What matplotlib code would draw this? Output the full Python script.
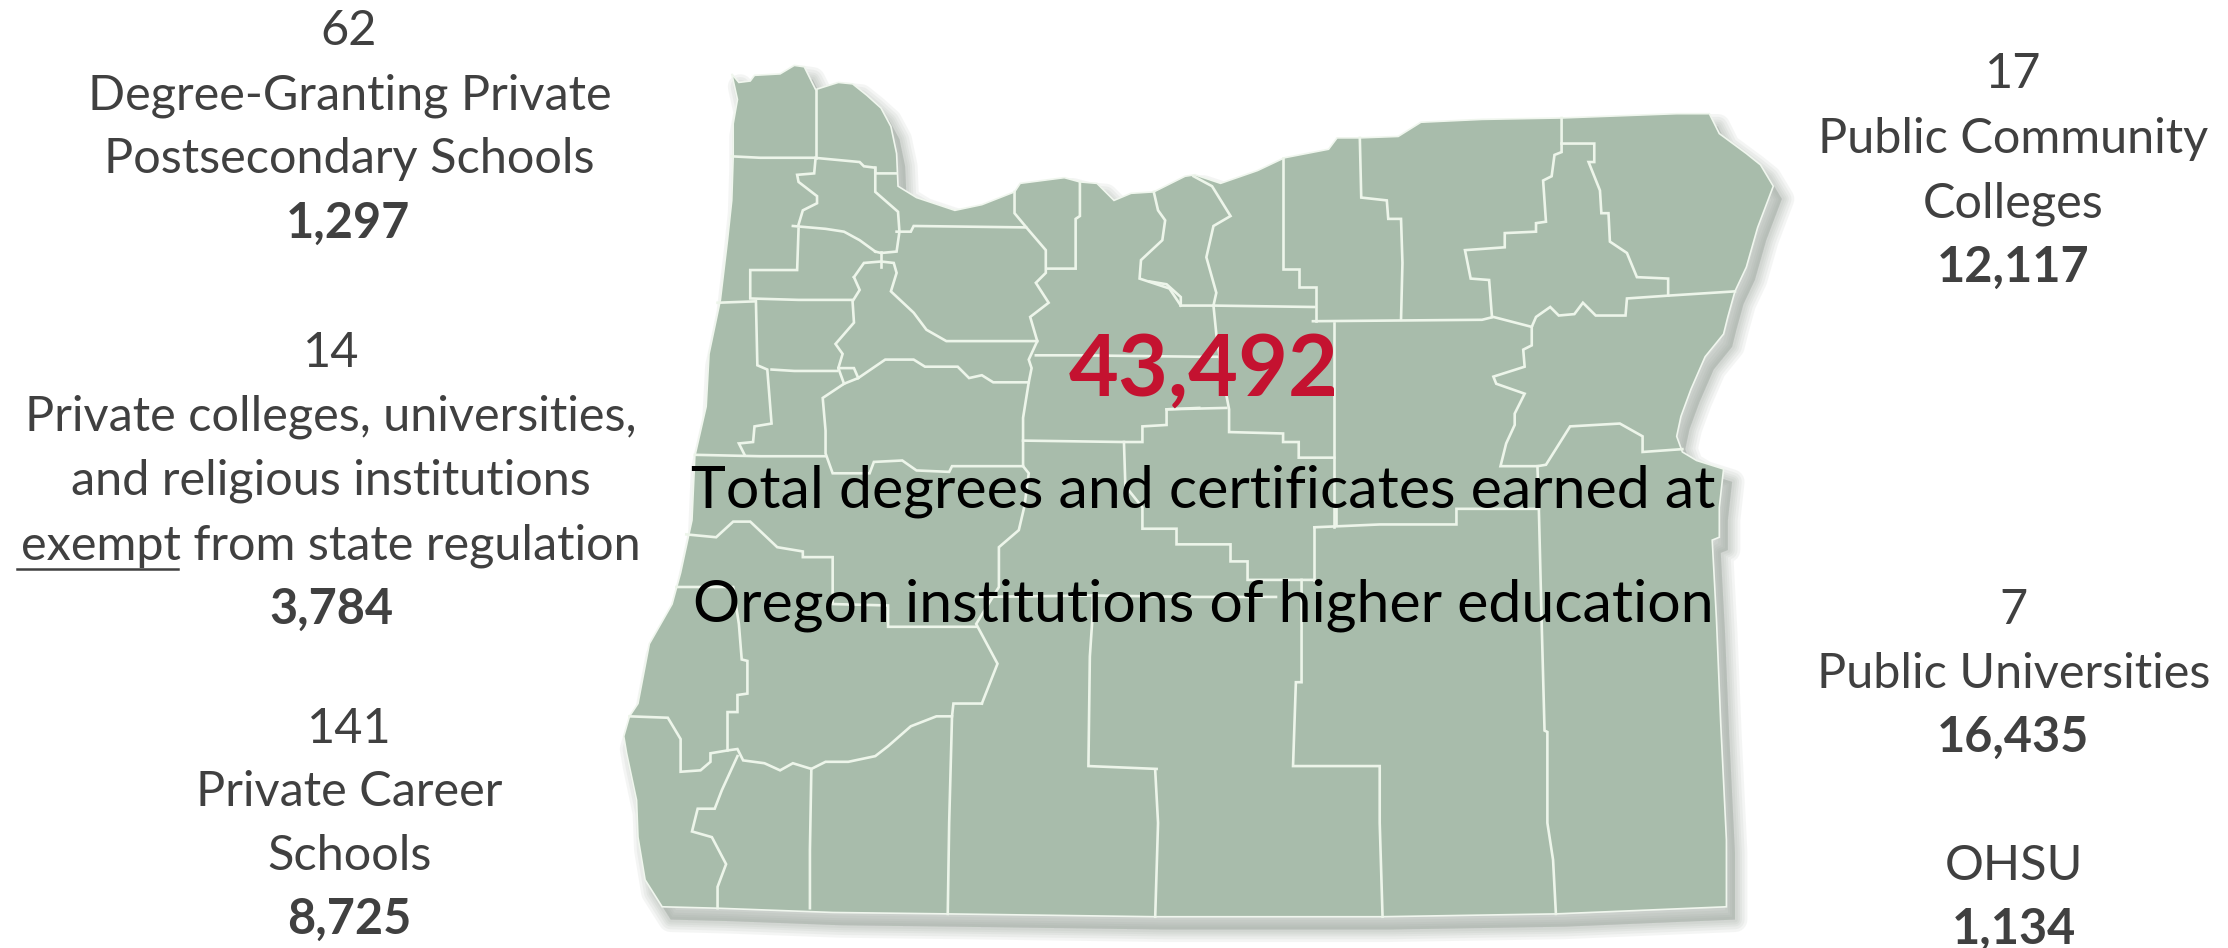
import matplotlib
matplotlib.use('Agg')
import matplotlib.pyplot as plt
from matplotlib.patches import Polygon

plt.rcParams['font.family'] = ['Lato', 'DejaVu Sans']

# map traced in a 1568x667 frame, y going down
state_outline = [
    (515, 52), (520, 58), (528, 57), (531, 53), (549, 52), (559, 46), (566, 47), (570, 55), (574, 63), (590, 58),
    (600, 59), (610, 67), (620, 76), (627, 89), (631, 108), (632, 131), (645, 139), (672, 148), (691, 144), (714, 135),
    (718, 129), (749, 125), (760, 128), (772, 129), (784, 141), (796, 136), (812, 135), (818, 132), (834, 124), (841, 123),
    (859, 129), (885, 120), (904, 111), (935, 105), (941, 97), (957, 97), (984, 96), (1000, 86), (1043, 84), (1099, 83),
    (1180, 80), (1203, 80), (1210, 94), (1229, 108), (1239, 116), (1248, 131), (1237, 160), (1229, 188), (1221, 205),
    (1216, 223), (1213, 235), (1200, 251), (1190, 274), (1183, 293), (1180, 307), (1184, 318), (1194, 324), (1213, 330),
    (1210, 357), (1210, 378), (1205, 380), (1208, 436), (1211, 509), (1215, 591), (1215, 638), (1095, 643), (972, 645),
    (813, 645), (667, 643), (586, 642), (505, 639), (466, 638), (454, 619), (449, 589), (448, 563), (441, 530), (439, 518),
    (443, 504), (449, 495), (457, 453), (473, 425), (479, 403), (487, 366), (489, 321), (497, 286), (499, 249), (507, 211),
    (512, 169), (515, 141), (516, 110), (516, 87), (519, 70),
]

county_lines = [
    [(574, 63), (574, 111)],
    [(515, 110), (535, 111), (573, 111), (605, 114), (608, 117), (616, 118), (616, 122), (631, 122)],
    [(574, 111), (573, 122), (561, 123), (562, 128), (575, 138), (575, 143), (565, 148), (562, 158)],
    [(558, 159), (581, 161), (594, 163), (605, 169), (616, 177)],
    [(562, 161), (561, 190), (528, 190), (528, 210), (562, 211), (600, 211)],
    [(505, 213), (532, 212), (533, 257), (540, 260), (543, 298), (531, 300), (530, 311), (520, 312), (524, 320)],
    [(489, 320), (535, 321), (581, 321)],
    [(543, 260), (559, 261), (589, 261)],
    [(616, 118), (616, 135), (632, 149), (633, 163), (631, 177), (620, 178), (616, 177)],
    [(631, 163), (641, 163), (643, 159), (722, 160)],
    [(620, 177), (620, 188)],
    [(601, 195), (608, 185), (620, 184), (629, 185), (631, 192), (627, 205), (643, 220), (652, 232), (666, 240), (730, 240)],
    [(601, 195), (605, 204), (600, 212), (601, 227), (588, 242), (593, 249), (590, 259), (594, 270), (579, 280), (581, 303),
     (581, 319), (586, 333), (612, 333), (615, 325), (635, 324), (645, 331), (668, 332), (670, 328), (720, 328)],
    [(590, 259), (601, 259), (604, 266), (623, 253), (643, 253), (651, 258), (674, 258), (682, 266), (691, 264), (699, 269),
     (724, 269)],
    [(594, 270), (604, 266)],
    [(714, 135), (714, 150), (724, 162), (736, 176), (736, 192), (729, 199), (738, 213), (725, 223), (730, 240), (724, 253),
     (726, 259), (724, 269), (720, 294), (720, 328), (724, 333), (721, 356), (717, 373), (703, 385), (703, 413), (687, 439),
     (702, 467), (691, 495)],
    [(720, 310), (791, 311), (804, 311), (804, 300), (821, 299), (821, 288), (863, 287)],
    [(791, 311), (792, 342), (804, 357), (804, 372), (828, 372), (828, 383), (866, 383), (866, 395), (878, 395), (878, 408),
     (925, 408)],
    [(925, 371), (925, 408)],
    [(925, 371), (971, 369), (1025, 369), (1025, 358), (1083, 358)],
    [(940, 357), (940, 369)],
    [(939, 227), (939, 371)],
    [(903, 111), (903, 152), (903, 189), (914, 189), (914, 202), (926, 202), (926, 226)],
    [(831, 215), (854, 215), (925, 216)],
    [(854, 215), (856, 235), (860, 262), (865, 288), (865, 304), (903, 305), (903, 311), (914, 311), (914, 322), (939, 322)],
    [(924, 226), (1043, 225), (1051, 223), (1078, 230)],
    [(957, 97), (958, 139), (976, 141), (977, 154), (986, 154), (987, 185), (986, 225)],
    [(1099, 83), (1099, 107), (1094, 109), (1092, 124), (1086, 127), (1088, 156), (1081, 157), (1081, 163), (1059, 164),
     (1059, 174), (1031, 176), (1035, 196), (1048, 197), (1050, 223)],
    [(1099, 101), (1122, 101), (1122, 114), (1118, 114), (1126, 134), (1127, 150), (1132, 150), (1133, 170), (1145, 178),
     (1152, 195), (1174, 196), (1174, 208)],
    [(1221, 205), (1174, 208), (1145, 210), (1144, 222), (1123, 222), (1114, 213), (1108, 221), (1097, 222), (1091, 216),
     (1081, 223), (1078, 230), (1078, 243), (1072, 246), (1073, 258), (1051, 265), (1053, 270), (1073, 277), (1066, 291),
     (1066, 299), (1060, 312), (1056, 328), (1082, 328), (1088, 327), (1105, 300), (1140, 298), (1156, 307), (1156, 318),
     (1184, 316)],
    [(1082, 328), (1083, 358), (1085, 439), (1087, 514), (1089, 515), (1089, 579), (1093, 605), (1095, 643)],
    [(916, 408), (916, 480), (912, 480), (910, 539), (971, 539), (971, 579), (973, 645)],
    [(813, 542), (815, 579), (813, 645)],
    [(769, 419), (769, 432), (767, 462), (766, 539), (814, 541)],
    [(687, 420), (769, 419), (844, 420), (898, 420)],
    [(483, 376), (504, 378), (516, 367), (528, 367), (547, 385), (565, 388), (565, 392), (586, 392), (586, 425), (625, 426),
     (625, 441), (687, 441)],
    [(476, 413), (516, 413), (520, 439), (522, 464), (526, 465), (526, 488), (519, 489), (519, 501), (512, 501), (512, 528),
     (500, 530), (500, 536), (493, 542), (479, 543), (479, 520), (470, 505), (443, 504)],
    [(512, 528), (519, 527), (523, 535), (538, 537), (549, 542), (558, 537), (571, 541), (581, 536), (597, 536), (616, 532),
     (625, 525), (641, 511), (659, 504), (670, 504), (671, 495), (691, 495)],
    [(670, 504), (668, 579), (667, 643)],
    [(571, 541), (570, 598), (570, 639)],
    [(519, 532), (508, 556), (503, 569), (491, 569), (487, 585), (501, 589), (511, 608), (505, 624), (505, 639)],
    [(729, 250), (759, 250), (844, 251), (859, 251)],
    [(821, 288), (844, 287)],
    [(760, 128), (760, 152), (757, 154), (757, 189), (737, 189)],
    [(812, 135), (815, 148), (820, 155), (818, 169), (803, 183), (802, 196), (823, 203), (831, 215)],
    [(840, 124), (853, 131), (866, 152), (854, 159), (849, 181), (856, 206), (854, 215)],
    [(809, 198), (821, 200), (831, 209), (831, 215)],
]

left_labels = [
    ('62', 245, 20, 'normal'),
    ('Degree-Granting Private', 246, 65, 'normal'),
    ('Postsecondary Schools', 246, 110, 'normal'),
    ('1,297', 245, 155, 'bold'),
    ('14', 233, 246, 'normal'),
    ('Private colleges, universities,', 233, 291, 'normal'),
    ('and religious institutions', 233, 336, 'normal'),
    ('exempt from state regulation', 233, 382, 'normal'),
    ('3,784', 233, 427, 'bold'),
    ('141', 246, 511, 'normal'),
    ('Private Career', 246, 555, 'normal'),
    ('Schools', 246, 600, 'normal'),
    ('8,725', 246, 645, 'bold'),
]
right_labels = [
    ('17', 1417, 50, 'normal'),
    ('Public Community', 1417, 96, 'normal'),
    ('Colleges', 1417, 141, 'normal'),
    ('12,117', 1417, 186, 'bold'),
    ('7', 1417, 427, 'normal'),
    ('Public Universities', 1417, 472, 'normal'),
    ('16,435', 1417, 517, 'bold'),
    ('OHSU', 1417, 607, 'normal'),
    ('1,134', 1417, 652, 'bold'),
]
total_value = '43,492'
total_lines = ['Total degrees and certificates earned at', 'Oregon institutions of higher education']

fig = plt.figure(figsize=(22.28, 9.48), dpi=100)
ax = fig.add_axes([0, 0, 1, 1])
ax.set_xlim(0, 1568)
ax.set_ylim(667, 0)
ax.axis('off')

# soft drop shadow, stacked see-through copies
for lw in [18, 14, 10, 7, 4]:
    shadow = [(x + 6, y + 9) for x, y in state_outline]
    ax.add_patch(Polygon(shadow, closed=True, facecolor='#8f9a90', edgecolor='#8f9a90', alpha=0.09, lw=lw,
                         joinstyle='round', zorder=1))

ax.add_patch(Polygon(state_outline, closed=True, facecolor='#a8bcab', edgecolor='#f0f6ee', lw=1.2, zorder=2))

for line in county_lines:
    ax.plot([p[0] for p in line], [p[1] for p in line], color='#edf5ea', lw=1.9, solid_joinstyle='miter', zorder=3)

for txt, x, y, weight in left_labels + right_labels:
    ax.text(x, y + 12, txt, ha='center', va='baseline', fontsize=35, color='#404040', fontweight=weight, zorder=4)

# only the first word of that label is underlined
ax.plot([12, 125], [400, 400], color='#404040', lw=1.8, zorder=4)

ax.text(847, 278, total_value, ha='center', va='baseline', fontsize=62, color='#c41230', fontweight='bold', zorder=5)
ax.text(847, 357, total_lines[0], ha='center', va='baseline', fontsize=42.5, color='black', zorder=5)
ax.text(847, 437, total_lines[1], ha='center', va='baseline', fontsize=42.5, color='black', zorder=5)

fig.savefig('out.png', dpi=100)
